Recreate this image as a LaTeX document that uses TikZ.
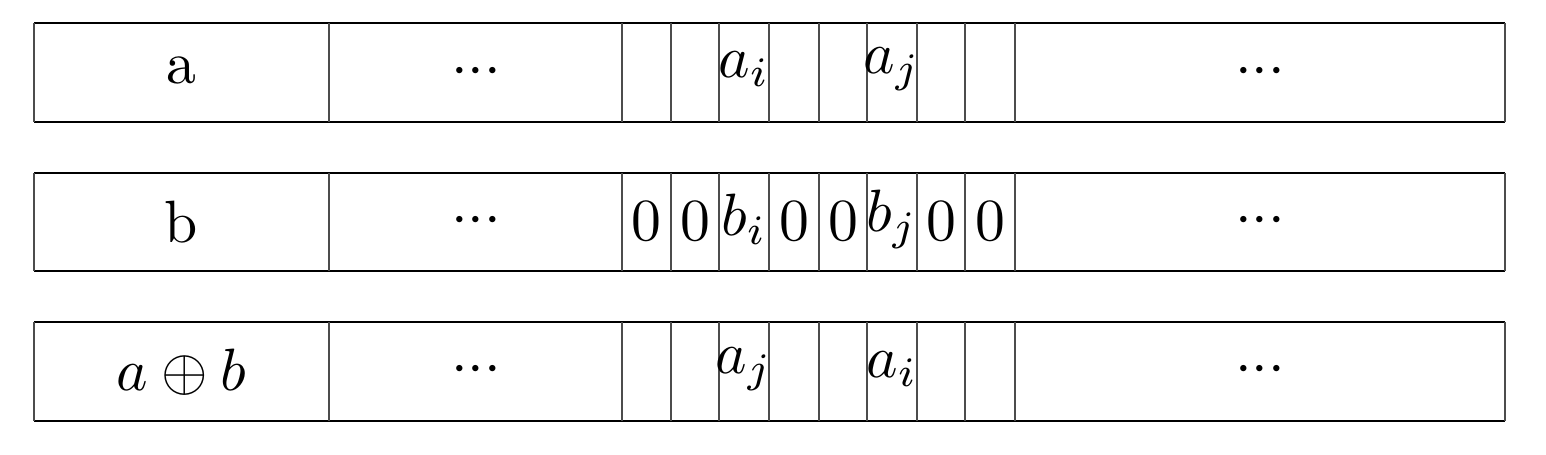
\documentclass[tikz,border=0pt]{standalone}
\usepackage{amsmath,amssymb}
\begin{document}
\begin{tikzpicture}[x=0.02cm,y=-0.02cm,
  hline/.style={black,line width=1.1pt},
  vline/.style={black!70,line width=1.5pt},
  celltext/.style={scale=3.4,inner sep=0pt,anchor=center}]
\newcommand{\mydots}{$\mathord{\cdot}\mathord{\cdot}\mathord{\cdot}$}
\useasboundingbox (0,0) rectangle (1546,454);
% rows: top, bottom
\foreach \r/\t/\b in {1/23/122,2/173/271,3/322/421}{
  \draw[hline] (34,\t) -- (1505,\t);
  \draw[hline] (34,\b) -- (1505,\b);
  \foreach \x in {34,329,622,671,719,769,819,867,917,965,1015,1505}
    \draw[vline] (\x,\t) -- (\x,\b);
}
% row 1
\node[celltext] (a0) at (181.5,70) {a};
\node[celltext] (a1) at (476,72) {\mydots};
\node[celltext] (a4) at (744,69.5) {$a_i$};
\node[celltext] (a7) at (892,69.5) {$a_j$};
\node[celltext] (a10) at (1260,72) {\mydots};
% row 2
\node[celltext] (b0) at (181.5,222) {b};
\node[celltext] (b1) at (476,221) {\mydots};
\node[celltext] (b2) at (646.5,221) {0};
\node[celltext] (b3) at (695,221) {0};
\node[celltext] (b4) at (744,219) {$b_i$};
\node[celltext] (b5) at (794,221) {0};
\node[celltext] (b6) at (843,221) {0};
\node[celltext] (b7) at (892,219) {$b_j$};
\node[celltext] (b8) at (941,221) {0};
\node[celltext] (b9) at (990,221) {0};
\node[celltext] (b10) at (1260,221) {\mydots};
% row 3
\node[celltext] (c0) at (181.5,372) {$a\oplus b$};
\node[celltext] (c1) at (476,370) {\mydots};
\node[celltext] (c4) at (744,369) {$a_j$};
\node[celltext] (c7) at (892,369) {$a_i$};
\node[celltext] (c10) at (1260,370) {\mydots};
\end{tikzpicture}
\end{document}
